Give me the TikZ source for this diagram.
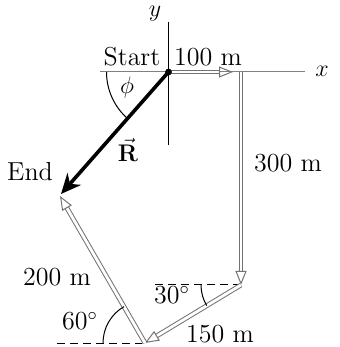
\documentclass[tikz,border=0pt]{standalone}
\usetikzlibrary{arrows.meta}
\begin{document}
\begin{tikzpicture}[x=0.5pt,y=0.5pt,
  lbl/.style={font=\fontsize{13}{15}\selectfont, inner sep=0pt},
  vecline/.style={draw=black!55, line width=0.5pt, double=white, double distance=1.4pt,
     -{Triangle[open, length=7pt, width=5.5pt, line width=0.5pt]}},
  dashline/.style={dashed, dash pattern=on 4pt off 2.5pt, line width=0.5pt},
  thinline/.style={line width=0.5pt}]
\useasboundingbox (0,0) rectangle (339,347);
% points
\coordinate (S) at (168.5,275);
\coordinate (A) at (241,275);
\coordinate (B) at (241,62);
\coordinate (C) at (145,4);
\coordinate (E) at (60,151);
\coordinate (Rt) at (61,153);
\coordinate (xl) at (100,275);
\coordinate (xr) at (305,275);
\coordinate (yt) at (168.5,325);
\coordinate (yb) at (168.5,202);
\coordinate (d1) at (155,62);
\coordinate (d2) at (57,3);
\coordinate (d3) at (142,3);
% axes
\draw[thinline, black!50] (xl) -- (xr);
\draw[thinline] (yt) -- (yb);
% dashed references
\draw[dashline] (d1) -- (B);
\draw[dashline] (d2) -- (d3);
% displacement vectors
\draw[vecline, shorten >=4pt] (S) -- (A);
\draw[vecline] (A) -- (B);
\draw[vecline] (B) -- (C);
\draw[vecline] (C) -- (E);
% resultant
\draw[line width=1.8pt, -{Stealth[length=10pt, width=9pt]}] (S) -- (Rt);
\fill (S) circle (3.4);
% angle arcs
\draw[thinline] (S) ++(180:31pt) arc[start angle=180, end angle=229, radius=31pt];
\draw[thinline] (B) ++(180:20pt) arc[start angle=180, end angle=211, radius=20pt];
\draw[thinline] (C) ++(120:21pt) arc[start angle=120, end angle=180, radius=21pt];
% labels
\node[lbl] (ly) at (155,333) {$y$};
\node[lbl] (lx) at (322,276) {$x$};
\node[lbl] (lstart) at (132,290) {Start};
\node[lbl] (l100) at (208,290) {100 m};
\node[lbl] (lphi) at (127,259) {$\phi$};
\node[lbl] (lR) at (128,197) {$\vec{\mathbf{R}}$};
\node[lbl] (lend) at (30,175) {End};
\node[lbl] (l300) at (288,184) {300 m};
\node[lbl] (l200) at (57,70) {200 m};
\node[lbl] (l30) at (172,52) {30$^\circ$};
\node[lbl] (l60) at (80,26) {60$^\circ$};
\node[lbl] (l150) at (220,13) {150 m};
\end{tikzpicture}
\end{document}
